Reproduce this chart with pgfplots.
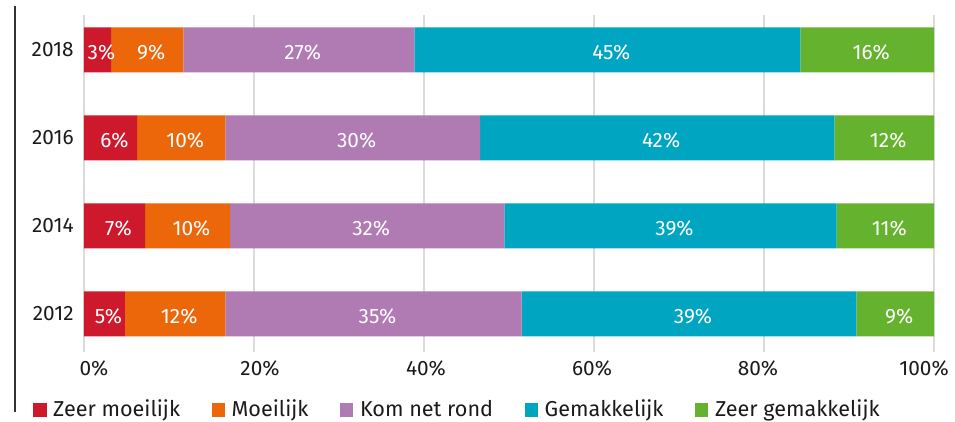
\documentclass[border=0pt]{standalone}
\usepackage{pgfplots}
\pgfplotsset{compat=1.18}
\usepackage{fontspec}
\setmainfont{Fira Sans}
\definecolor{cRed}{HTML}{CE192D}
\definecolor{cOrange}{HTML}{EB670A}
\definecolor{cPurple}{HTML}{B07AB2}
\definecolor{cTeal}{HTML}{00A6C1}
\definecolor{cGreen}{HTML}{65B22F}
\definecolor{cText}{HTML}{1A1A1A}
\begin{document}
\begin{tikzpicture}
\path[use as bounding box] (-42pt,-35pt) rectangle (435.5pt,176pt);
\draw[line width=1pt, color=black!80] (-34.5pt,173pt) -- (-34.5pt,-30pt);
\pgfplotsset{
  myaxis/.style={scale only axis, width=425pt, height=168.5pt,
    xmin=0, xmax=100, ymin=-0.434, ymax=3.395,
    at={(0pt,0pt)}, anchor=south west},
  myleg/.style={legend image code/.code={\path (-12.5pt,0pt); \fill[##1] (0pt,-0.2pt) rectangle (6.67pt,6.8pt);}}
}
\begin{axis}[myaxis,
  xbar stacked, bar width=22.5pt,
  axis line style={draw=none},
  major tick length=0pt,
  xtick={0,20,...,100},
  xticklabel={\pgfmathparse{10-0.2*\tick}\makebox[0pt][c]{\hspace*{\pgfmathresult pt}\pgfmathprintnumber{\tick}\%}},
  ytick={0,1,2,3},
  yticklabels={2012,2014,2016,2018},
  xmajorgrids,
  grid style={color=black!14, line width=0.75pt},
  /pgf/number format/assume math mode=true,
  tick label style={font=\fontsize{10.4}{12}\selectfont, text=cText, inner sep=0pt},
  yticklabel style={xshift=-5pt},
  xticklabel style={yshift=-4.5pt, text height=7pt},
  legend columns=-1,
  legend style={at={(-0.0891,-0.1721)}, anchor=west, draw=none, fill=none,
    inner sep=0pt, outer sep=0pt, column sep=3.3pt,
    nodes={inner sep=0pt, anchor=base west, font=\fontsize{10.8}{12}\selectfont, text=cText}},
]
\addplot[fill=cRed, draw=none, myleg] coordinates {(4.82,0) (7.18,1) (6.24,2) (3.18,3)};
\addlegendentry{Zeer moeilijk}
\addplot[fill=cOrange, draw=none, myleg] coordinates {(11.81,0) (10.00,1) (10.39,2) (8.50,3)};
\addlegendentry{Moeilijk}
\addplot[fill=cPurple, draw=none, myleg] coordinates {(34.86,0) (32.27,1) (29.96,2) (27.18,3)};
\addlegendentry{Kom net rond}
\addplot[fill=cTeal, draw=none, myleg] coordinates {(39.37,0) (39.10,1) (41.68,2) (45.41,3)};
\addlegendentry{Gemakkelijk}
\addplot[fill=cGreen, draw=none, myleg] coordinates {(9.14,0) (11.45,1) (11.73,2) (15.73,3)};
\addlegendentry{Zeer gemakkelijk}
\end{axis}
\begin{axis}[myaxis, hide axis]
\addplot[only marks, mark=none, nodes near coords, point meta=explicit symbolic,
  every node near coord/.append style={anchor=center, text=white, inner sep=0pt,
    font=\fontsize{10.4}{12}\selectfont, xshift=2pt, yshift=-1.2pt}]
  table[meta=lab] {
x y lab
1.59 3 3\%
7.43 3 9\%
25.27 3 27\%
61.57 3 45\%
92.14 3 16\%
3.12 2 6\%
11.44 2 10\%
31.61 2 30\%
67.43 2 42\%
94.14 2 12\%
3.59 1 7\%
12.18 1 10\%
33.32 1 32\%
69.00 1 39\%
94.28 1 11\%
2.41 0 5\%
10.73 0 12\%
34.06 0 35\%
71.18 0 39\%
95.43 0 9\%
};
\end{axis}
\end{tikzpicture}
\end{document}
